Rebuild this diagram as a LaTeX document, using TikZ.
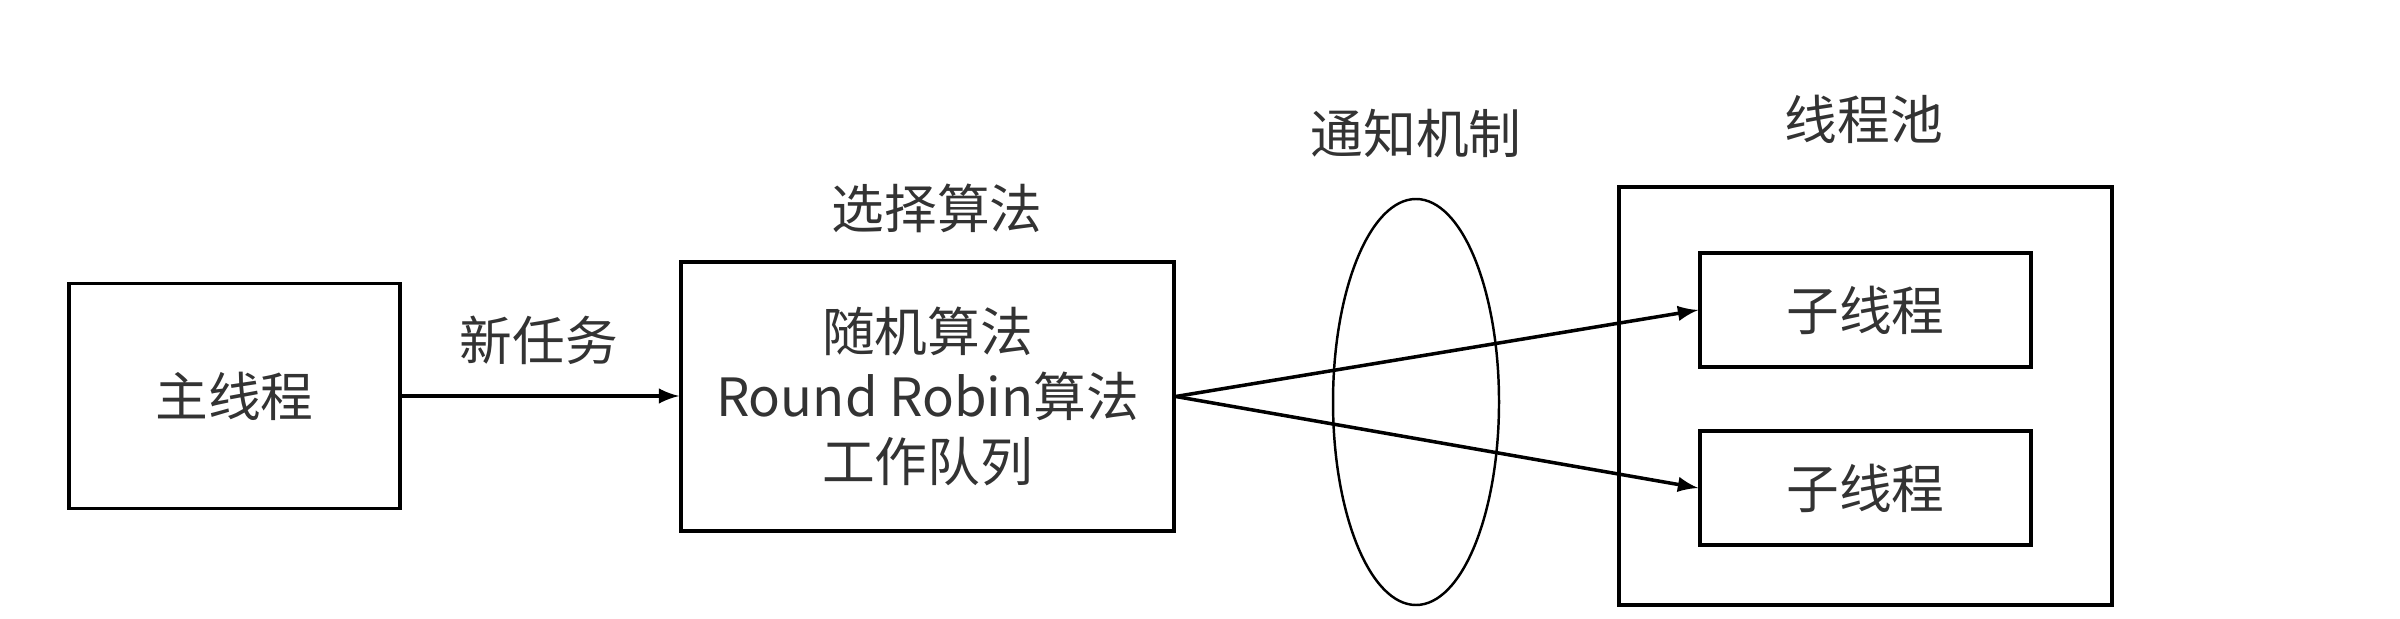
\documentclass[tikz,border=0pt]{standalone}
\usepackage{fontspec}
\setmainfont{Noto Sans CJK SC}
\usetikzlibrary{shapes.geometric}

\begin{document}
\begin{tikzpicture}[>=latex, line width=1pt,
        box/.style={draw, rectangle, inner sep=0pt},
        txt/.style={font=\fontsize{15}{18.5}\selectfont, text=black!80}]
        \useasboundingbox (0,0) rectangle (24,6.18);

        % Thread principale
        \node[box, minimum width=3.31cm, minimum height=2.25cm, txt] (main) at (2.345,2.22) {主线程};

        % Algoritmo di selezione
        \node[box, minimum width=4.93cm, minimum height=2.69cm, txt, align=center] (select) at (9.275,2.215)
            {随机算法\\Round Robin算法\\工作队列};
        \node[txt] (selectlbl) at (9.37,4.10) {选择算法};

        \draw[->] (main.east) -- (main.east -| select.west);
        \node[txt] (newtask) at (5.39,2.78) {新任务};

        % Notifica
        \node[draw, ellipse, line width=0.7pt, minimum width=1.66cm, minimum height=4.06cm] (notify) at (14.16,2.16) {};
        \node[txt] (notifylbl) at (14.16,4.85) {通知机制};

        % Pool di thread
        \node[box, minimum width=4.93cm, minimum height=4.18cm] (pool) at (18.655,2.22) {};
        \node[txt] (poollbl) at (18.64,4.99) {线程池};
        \node[box, minimum width=3.31cm, minimum height=1.14cm, txt] (sub1) at (18.655,3.08) {子线程};
        \node[box, minimum width=3.31cm, minimum height=1.14cm, txt] (sub2) at (18.655,1.30) {子线程};

        \draw[->] (select.east) -- (sub1.west);
        \draw[->] (select.east) -- (sub2.west);
    \end{tikzpicture}
\end{document}
